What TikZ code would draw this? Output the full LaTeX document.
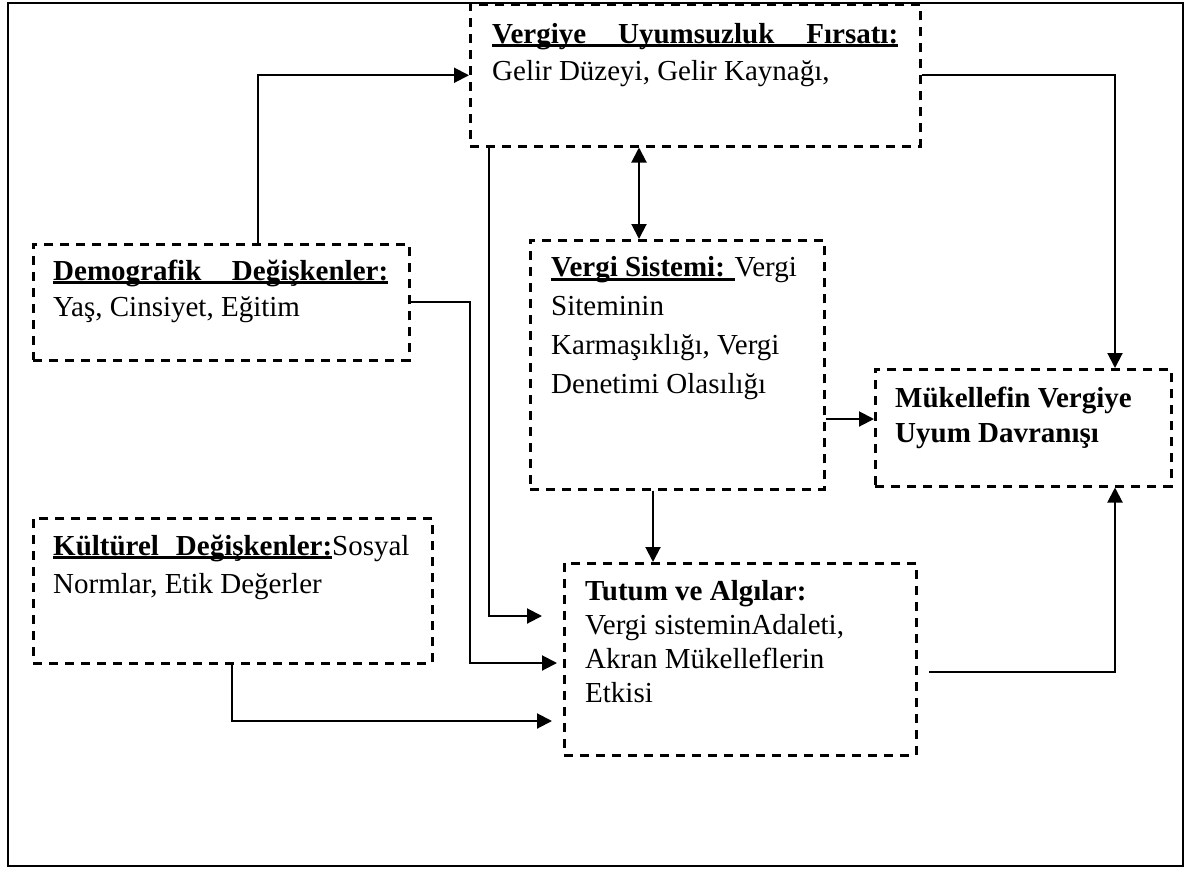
\documentclass[tikz,border=0pt]{standalone}
\usepackage{fontspec}
\setmainfont{Liberation Serif}
\usetikzlibrary{arrows.meta}
\newcommand\ulbox[2]{\setbox0\hbox to #1{#2}\rlap{\rule[-4pt]{#1}{2.6pt}}\box0}
\newcommand\ulnat[1]{\setbox0\hbox{#1}\rlap{\rule[-4pt]{\wd0}{2.6pt}}\box0}
\tikzset{
  dbox/.style={draw, line width=2.5pt, dash pattern=on 9pt off 7pt, inner sep=0pt, anchor=north west},
  txt/.style={inner sep=0pt, align=left, anchor=base west},
  conn/.style={line width=2pt, -{Triangle[length=15pt,width=15pt]}},
  conn2/.style={line width=2pt, {Triangle[length=15pt,width=15pt]}-{Triangle[length=15pt,width=15pt]}}
}
\begin{document}
\begin{tikzpicture}[x=1pt,y=-1pt]
\useasboundingbox (0,0) rectangle (1189,868);
\draw[line width=2pt] (8,2.5) rectangle (1182.5,866);

% boxes
\node[dbox, minimum width=450pt, minimum height=142pt] (top) at (469,3) {};
\node[dbox, minimum width=376pt, minimum height=116pt] (dem) at (32,243) {};
\node[dbox, minimum width=294pt, minimum height=249pt] (vs) at (529,239) {};
\node[dbox, minimum width=296pt, minimum height=117pt] (muk) at (874,368) {};
\node[dbox, minimum width=399pt, minimum height=145pt] (kul) at (32,517) {};
\node[dbox, minimum width=352pt, minimum height=192pt] (tut) at (563,562) {};

% texts (anchored at the baseline of their last line)
\node[txt, font=\fontsize{29}{37}\selectfont] (toptx) at (492,80)
  {\ulbox{406pt}{\bfseries Vergiye\hfil Uyumsuzluk\hfil Fırsatı:}\\Gelir Düzeyi, Gelir Kaynağı,};
\node[txt, font=\fontsize{29}{36}\selectfont] (demtx) at (53,316)
  {\ulbox{335pt}{\bfseries Demografik\hfil Değişkenler:}\\Yaş, Cinsiyet, Eğitim};
\node[txt, font=\fontsize{29}{38.7}\selectfont] (vstx) at (551,393)
  {\ulnat{\bfseries Vergi Sistemi: }Vergi\\Siteminin\\Karmaşıklığı, Vergi\\Denetimi Olasılığı};
\node[txt, font=\fontsize{29}{35}\selectfont\bfseries] (muktx) at (895,442)
  {Mükellefin Vergiye\\Uyum Davranışı};
\node[txt, font=\fontsize{29}{38}\selectfont] (kultx) at (53,593)
  {\ulbox{279pt}{\bfseries Kültürel\hfil Değişkenler:}Sosyal\\Normlar, Etik Değerler};
\node[txt, font=\fontsize{29}{34}\selectfont] (tuttx) at (585,702)
  {{\bfseries Tutum ve Algılar:}\\Vergi sisteminAdaleti,\\Akran Mükelleflerin\\Etkisi};

% helper coordinates
\coordinate (xdem) at (258,0);
\coordinate (xmuk) at (1115,0);
\coordinate (xbi) at (639,0);
\coordinate (yvm) at (0,419);
\coordinate (xvt) at (653,0);
\coordinate (tstart) at (929,672);
\coordinate (xtop) at (489,0);
\coordinate (e1) at (542,616);
\coordinate (b2) at (470,663);
\coordinate (e2) at (557,663);
\coordinate (xkul) at (232,0);
\coordinate (e3) at (552,721);

% connectors
\draw[conn] (dem.north -| xdem) |- (top.west);
\draw[conn] (top.east) -| (muk.north -| xmuk);
\draw[conn2] (top.south -| xbi) -- (vs.north -| xbi);
\draw[conn] (vs.east |- yvm) -- (muk.west |- yvm);
\draw[conn] (vs.south -| xvt) -- (tut.north -| xvt);
\draw[conn] (tstart) -| (muk.south -| xmuk);
\draw[conn] (top.south -| xtop) |- (e1);
\draw[conn] (dem.east) -| (b2) -- (e2);
\draw[conn] (kul.south -| xkul) |- (e3);
\end{tikzpicture}
\end{document}
